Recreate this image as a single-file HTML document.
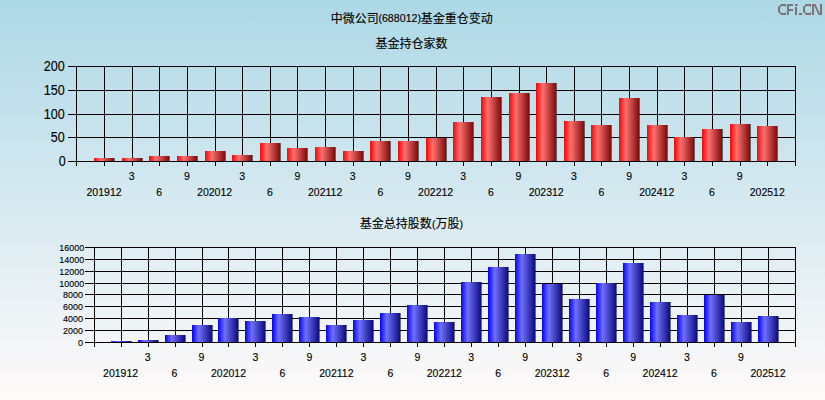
<!DOCTYPE html>
<html><head><meta charset="utf-8"><title>chart</title>
<style>html,body{margin:0;padding:0;background:#fff}body{width:825px;height:400px;overflow:hidden}#c{display:block;width:825px;height:400px;background:linear-gradient(to bottom,rgb(173,216,230),rgb(255,250,250))}</style>
</head><body>
<svg id="c" width="825" height="400" viewBox="0 0 825 400">
<defs><linearGradient id="gr" x1="0" y1="0" x2="1" y2="0"><stop offset="0" stop-color="rgb(255,0,0)"/><stop offset="0.335" stop-color="rgb(255,112,112)"/><stop offset="1" stop-color="rgb(126,12,12)"/></linearGradient><linearGradient id="gb" x1="0" y1="0" x2="1" y2="0"><stop offset="0" stop-color="rgb(0,0,255)"/><stop offset="0.335" stop-color="rgb(112,112,252)"/><stop offset="1" stop-color="rgb(12,12,126)"/></linearGradient><linearGradient id="bg" x1="0" y1="0" x2="0" y2="1"><stop offset="0" stop-color="rgb(173,216,230)"/><stop offset="1" stop-color="rgb(255,250,250)"/></linearGradient></defs>
<rect x="0" y="0" width="825" height="400" fill="url(#bg)"/>
<text x="378.40" y="22.20" style="font-family:'Liberation Sans',sans-serif;font-size:10.67px" fill="#000" stroke="#000" stroke-width="0.12">(688012)</text><text x="330.8" y="22.8" style="font-family:'Liberation Sans','Noto Sans CJK SC',sans-serif;font-size:12px" fill="#000" stroke="#000" stroke-width="0.12">中微公司</text><text x="420.8" y="22.8" style="font-family:'Liberation Sans','Noto Sans CJK SC',sans-serif;font-size:12px" fill="#000" stroke="#000" stroke-width="0.12">基金重仓变动</text>
<text x="375.5" y="48" style="font-family:'Liberation Sans','Noto Sans CJK SC',sans-serif;font-size:12px" fill="#000" stroke="#000" stroke-width="0.12">基金持仓家数</text>
<text x="432.05" y="227.80" style="font-family:'Liberation Sans',sans-serif;font-size:10.67px" fill="#000" stroke="#000" stroke-width="0.12">(</text><text x="459.60" y="227.80" style="font-family:'Liberation Sans',sans-serif;font-size:10.67px" fill="#000" stroke="#000" stroke-width="0.12">)</text><text x="359.8" y="228.4" style="font-family:'Liberation Sans','Noto Sans CJK SC',sans-serif;font-size:12px" fill="#000" stroke="#000" stroke-width="0.12">基金总持股数</text><text x="435.6" y="228.4" style="font-family:'Liberation Sans','Noto Sans CJK SC',sans-serif;font-size:12px" fill="#000" stroke="#000" stroke-width="0.12">万股</text>
<g fill="#000" shape-rendering="crispEdges"><rect x="68" y="66" width="728" height="1"/><rect x="68" y="90" width="728" height="1"/><rect x="68" y="114" width="728" height="1"/><rect x="68" y="137" width="728" height="1"/><rect x="68" y="161" width="728" height="1"/><rect x="76" y="66" width="1" height="100"/><rect x="104" y="66" width="1" height="100"/><rect x="132" y="66" width="1" height="100"/><rect x="159" y="66" width="1" height="100"/><rect x="187" y="66" width="1" height="100"/><rect x="215" y="66" width="1" height="100"/><rect x="242" y="66" width="1" height="100"/><rect x="270" y="66" width="1" height="100"/><rect x="297" y="66" width="1" height="100"/><rect x="325" y="66" width="1" height="100"/><rect x="353" y="66" width="1" height="100"/><rect x="380" y="66" width="1" height="100"/><rect x="408" y="66" width="1" height="100"/><rect x="436" y="66" width="1" height="100"/><rect x="463" y="66" width="1" height="100"/><rect x="491" y="66" width="1" height="100"/><rect x="519" y="66" width="1" height="100"/><rect x="546" y="66" width="1" height="100"/><rect x="574" y="66" width="1" height="100"/><rect x="601" y="66" width="1" height="100"/><rect x="629" y="66" width="1" height="100"/><rect x="657" y="66" width="1" height="100"/><rect x="684" y="66" width="1" height="100"/><rect x="712" y="66" width="1" height="100"/><rect x="740" y="66" width="1" height="100"/><rect x="767" y="66" width="1" height="100"/><rect x="795" y="66" width="1" height="100"/></g><g shape-rendering="crispEdges"><rect x="94" y="158" width="20" height="3" fill="url(#gr)"/><rect x="114" y="158" width="1" height="3" fill="#000" fill-opacity="0.55"/><rect x="122" y="158" width="20" height="3" fill="url(#gr)"/><rect x="142" y="158" width="1" height="3" fill="#000" fill-opacity="0.55"/><rect x="149" y="156" width="20" height="5" fill="url(#gr)"/><rect x="169" y="156" width="1" height="5" fill="#000" fill-opacity="0.55"/><rect x="177" y="156" width="20" height="5" fill="url(#gr)"/><rect x="197" y="156" width="1" height="5" fill="#000" fill-opacity="0.55"/><rect x="205" y="151" width="20" height="10" fill="url(#gr)"/><rect x="225" y="151" width="1" height="10" fill="#000" fill-opacity="0.55"/><rect x="232" y="155" width="20" height="6" fill="url(#gr)"/><rect x="252" y="155" width="1" height="6" fill="#000" fill-opacity="0.55"/><rect x="260" y="143" width="20" height="18" fill="url(#gr)"/><rect x="280" y="143" width="1" height="18" fill="#000" fill-opacity="0.55"/><rect x="287" y="148" width="20" height="13" fill="url(#gr)"/><rect x="307" y="148" width="1" height="13" fill="#000" fill-opacity="0.55"/><rect x="315" y="147" width="20" height="14" fill="url(#gr)"/><rect x="335" y="147" width="1" height="14" fill="#000" fill-opacity="0.55"/><rect x="343" y="151" width="20" height="10" fill="url(#gr)"/><rect x="363" y="151" width="1" height="10" fill="#000" fill-opacity="0.55"/><rect x="370" y="141" width="20" height="20" fill="url(#gr)"/><rect x="390" y="141" width="1" height="20" fill="#000" fill-opacity="0.55"/><rect x="398" y="141" width="20" height="20" fill="url(#gr)"/><rect x="418" y="141" width="1" height="20" fill="#000" fill-opacity="0.55"/><rect x="426" y="138" width="20" height="23" fill="url(#gr)"/><rect x="446" y="138" width="1" height="23" fill="#000" fill-opacity="0.55"/><rect x="453" y="122" width="20" height="39" fill="url(#gr)"/><rect x="473" y="122" width="1" height="39" fill="#000" fill-opacity="0.55"/><rect x="481" y="97" width="20" height="64" fill="url(#gr)"/><rect x="501" y="97" width="1" height="64" fill="#000" fill-opacity="0.55"/><rect x="509" y="93" width="20" height="68" fill="url(#gr)"/><rect x="529" y="93" width="1" height="68" fill="#000" fill-opacity="0.55"/><rect x="536" y="83" width="20" height="78" fill="url(#gr)"/><rect x="556" y="83" width="1" height="78" fill="#000" fill-opacity="0.55"/><rect x="564" y="121" width="20" height="40" fill="url(#gr)"/><rect x="584" y="121" width="1" height="40" fill="#000" fill-opacity="0.55"/><rect x="591" y="125" width="20" height="36" fill="url(#gr)"/><rect x="611" y="125" width="1" height="36" fill="#000" fill-opacity="0.55"/><rect x="619" y="98" width="20" height="63" fill="url(#gr)"/><rect x="639" y="98" width="1" height="63" fill="#000" fill-opacity="0.55"/><rect x="647" y="125" width="20" height="36" fill="url(#gr)"/><rect x="667" y="125" width="1" height="36" fill="#000" fill-opacity="0.55"/><rect x="674" y="137" width="20" height="24" fill="url(#gr)"/><rect x="694" y="137" width="1" height="24" fill="#000" fill-opacity="0.55"/><rect x="702" y="129" width="20" height="32" fill="url(#gr)"/><rect x="722" y="129" width="1" height="32" fill="#000" fill-opacity="0.55"/><rect x="730" y="124" width="20" height="37" fill="url(#gr)"/><rect x="750" y="124" width="1" height="37" fill="#000" fill-opacity="0.55"/><rect x="757" y="126" width="20" height="35" fill="url(#gr)"/><rect x="777" y="126" width="1" height="35" fill="#000" fill-opacity="0.55"/></g><g style="font-family:'Liberation Sans',sans-serif;font-size:13.33px" fill="#000" stroke="#000" stroke-width="0.12"><text transform="translate(64.8,71.20) scale(0.945,1.047)" text-anchor="end">200</text><text transform="translate(64.8,95.20) scale(0.945,1.047)" text-anchor="end">150</text><text transform="translate(64.8,119.20) scale(0.945,1.047)" text-anchor="end">100</text><text transform="translate(64.8,142.20) scale(0.945,1.047)" text-anchor="end">50</text><text transform="translate(65.8,166.20) scale(0.945,1.047)" text-anchor="end">0</text></g><g style="font-family:'Liberation Sans',sans-serif;font-size:10.67px" fill="#000" stroke="#000" stroke-width="0.12"><text transform="translate(104.03,196) scale(0.985,1.045)" text-anchor="middle">201912</text><text transform="translate(131.67,180) scale(0.985,1.045)" text-anchor="middle">3</text><text transform="translate(159.30,196) scale(0.985,1.045)" text-anchor="middle">6</text><text transform="translate(186.94,180) scale(0.985,1.045)" text-anchor="middle">9</text><text transform="translate(214.57,196) scale(0.985,1.045)" text-anchor="middle">202012</text><text transform="translate(242.20,180) scale(0.985,1.045)" text-anchor="middle">3</text><text transform="translate(269.84,196) scale(0.985,1.045)" text-anchor="middle">6</text><text transform="translate(297.47,180) scale(0.985,1.045)" text-anchor="middle">9</text><text transform="translate(325.11,196) scale(0.985,1.045)" text-anchor="middle">202112</text><text transform="translate(352.74,180) scale(0.985,1.045)" text-anchor="middle">3</text><text transform="translate(380.37,196) scale(0.985,1.045)" text-anchor="middle">6</text><text transform="translate(408.01,180) scale(0.985,1.045)" text-anchor="middle">9</text><text transform="translate(435.64,196) scale(0.985,1.045)" text-anchor="middle">202212</text><text transform="translate(463.28,180) scale(0.985,1.045)" text-anchor="middle">3</text><text transform="translate(490.91,196) scale(0.985,1.045)" text-anchor="middle">6</text><text transform="translate(518.54,180) scale(0.985,1.045)" text-anchor="middle">9</text><text transform="translate(546.18,196) scale(0.985,1.045)" text-anchor="middle">202312</text><text transform="translate(573.81,180) scale(0.985,1.045)" text-anchor="middle">3</text><text transform="translate(601.45,196) scale(0.985,1.045)" text-anchor="middle">6</text><text transform="translate(629.08,180) scale(0.985,1.045)" text-anchor="middle">9</text><text transform="translate(656.71,196) scale(0.985,1.045)" text-anchor="middle">202412</text><text transform="translate(684.35,180) scale(0.985,1.045)" text-anchor="middle">3</text><text transform="translate(711.98,196) scale(0.985,1.045)" text-anchor="middle">6</text><text transform="translate(739.62,180) scale(0.985,1.045)" text-anchor="middle">9</text><text transform="translate(767.25,196) scale(0.985,1.045)" text-anchor="middle">202512</text></g>
<g fill="#000" shape-rendering="crispEdges"><rect x="85" y="247" width="711" height="1"/><rect x="85" y="259" width="711" height="1"/><rect x="85" y="271" width="711" height="1"/><rect x="85" y="283" width="711" height="1"/><rect x="85" y="294" width="711" height="1"/><rect x="85" y="306" width="711" height="1"/><rect x="85" y="318" width="711" height="1"/><rect x="85" y="330" width="711" height="1"/><rect x="85" y="342" width="711" height="1"/><rect x="94" y="247" width="1" height="100"/><rect x="121" y="247" width="1" height="100"/><rect x="148" y="247" width="1" height="100"/><rect x="175" y="247" width="1" height="100"/><rect x="202" y="247" width="1" height="100"/><rect x="228" y="247" width="1" height="100"/><rect x="255" y="247" width="1" height="100"/><rect x="282" y="247" width="1" height="100"/><rect x="309" y="247" width="1" height="100"/><rect x="336" y="247" width="1" height="100"/><rect x="363" y="247" width="1" height="100"/><rect x="390" y="247" width="1" height="100"/><rect x="417" y="247" width="1" height="100"/><rect x="444" y="247" width="1" height="100"/><rect x="471" y="247" width="1" height="100"/><rect x="498" y="247" width="1" height="100"/><rect x="525" y="247" width="1" height="100"/><rect x="552" y="247" width="1" height="100"/><rect x="579" y="247" width="1" height="100"/><rect x="606" y="247" width="1" height="100"/><rect x="633" y="247" width="1" height="100"/><rect x="660" y="247" width="1" height="100"/><rect x="687" y="247" width="1" height="100"/><rect x="714" y="247" width="1" height="100"/><rect x="741" y="247" width="1" height="100"/><rect x="768" y="247" width="1" height="100"/><rect x="795" y="247" width="1" height="100"/></g><g shape-rendering="crispEdges"><rect x="111" y="341" width="20" height="1" fill="url(#gb)"/><rect x="131" y="341" width="1" height="1" fill="#000" fill-opacity="0.55"/><rect x="138" y="340" width="20" height="2" fill="url(#gb)"/><rect x="158" y="340" width="1" height="2" fill="#000" fill-opacity="0.55"/><rect x="165" y="335" width="20" height="7" fill="url(#gb)"/><rect x="185" y="335" width="1" height="7" fill="#000" fill-opacity="0.55"/><rect x="192" y="325" width="20" height="17" fill="url(#gb)"/><rect x="212" y="325" width="1" height="17" fill="#000" fill-opacity="0.55"/><rect x="218" y="318" width="20" height="24" fill="url(#gb)"/><rect x="238" y="318" width="1" height="24" fill="#000" fill-opacity="0.55"/><rect x="245" y="321" width="20" height="21" fill="url(#gb)"/><rect x="265" y="321" width="1" height="21" fill="#000" fill-opacity="0.55"/><rect x="272" y="314" width="20" height="28" fill="url(#gb)"/><rect x="292" y="314" width="1" height="28" fill="#000" fill-opacity="0.55"/><rect x="299" y="317" width="20" height="25" fill="url(#gb)"/><rect x="319" y="317" width="1" height="25" fill="#000" fill-opacity="0.55"/><rect x="326" y="325" width="20" height="17" fill="url(#gb)"/><rect x="346" y="325" width="1" height="17" fill="#000" fill-opacity="0.55"/><rect x="353" y="320" width="20" height="22" fill="url(#gb)"/><rect x="373" y="320" width="1" height="22" fill="#000" fill-opacity="0.55"/><rect x="380" y="313" width="20" height="29" fill="url(#gb)"/><rect x="400" y="313" width="1" height="29" fill="#000" fill-opacity="0.55"/><rect x="407" y="305" width="20" height="37" fill="url(#gb)"/><rect x="427" y="305" width="1" height="37" fill="#000" fill-opacity="0.55"/><rect x="434" y="322" width="20" height="20" fill="url(#gb)"/><rect x="454" y="322" width="1" height="20" fill="#000" fill-opacity="0.55"/><rect x="461" y="282" width="20" height="60" fill="url(#gb)"/><rect x="481" y="282" width="1" height="60" fill="#000" fill-opacity="0.55"/><rect x="488" y="267" width="20" height="75" fill="url(#gb)"/><rect x="508" y="267" width="1" height="75" fill="#000" fill-opacity="0.55"/><rect x="515" y="254" width="20" height="88" fill="url(#gb)"/><rect x="535" y="254" width="1" height="88" fill="#000" fill-opacity="0.55"/><rect x="542" y="284" width="20" height="58" fill="url(#gb)"/><rect x="562" y="284" width="1" height="58" fill="#000" fill-opacity="0.55"/><rect x="569" y="299" width="20" height="43" fill="url(#gb)"/><rect x="589" y="299" width="1" height="43" fill="#000" fill-opacity="0.55"/><rect x="596" y="283" width="20" height="59" fill="url(#gb)"/><rect x="616" y="283" width="1" height="59" fill="#000" fill-opacity="0.55"/><rect x="623" y="263" width="20" height="79" fill="url(#gb)"/><rect x="643" y="263" width="1" height="79" fill="#000" fill-opacity="0.55"/><rect x="650" y="302" width="20" height="40" fill="url(#gb)"/><rect x="670" y="302" width="1" height="40" fill="#000" fill-opacity="0.55"/><rect x="677" y="315" width="20" height="27" fill="url(#gb)"/><rect x="697" y="315" width="1" height="27" fill="#000" fill-opacity="0.55"/><rect x="704" y="295" width="20" height="47" fill="url(#gb)"/><rect x="724" y="295" width="1" height="47" fill="#000" fill-opacity="0.55"/><rect x="731" y="322" width="20" height="20" fill="url(#gb)"/><rect x="751" y="322" width="1" height="20" fill="#000" fill-opacity="0.55"/><rect x="758" y="316" width="20" height="26" fill="url(#gb)"/><rect x="778" y="316" width="1" height="26" fill="#000" fill-opacity="0.55"/></g><g style="font-family:'Liberation Sans',sans-serif;font-size:9.33px" fill="#000" stroke="#000" stroke-width="0.12"><text transform="translate(84.1,250.80) scale(0.955,1.047)" text-anchor="end">16000</text><text transform="translate(84.1,262.80) scale(0.955,1.047)" text-anchor="end">14000</text><text transform="translate(84.1,274.80) scale(0.955,1.047)" text-anchor="end">12000</text><text transform="translate(84.1,286.80) scale(0.955,1.047)" text-anchor="end">10000</text><text transform="translate(82.89999999999999,297.80) scale(0.955,1.047)" text-anchor="end">8000</text><text transform="translate(82.89999999999999,309.80) scale(0.955,1.047)" text-anchor="end">6000</text><text transform="translate(82.89999999999999,321.80) scale(0.955,1.047)" text-anchor="end">4000</text><text transform="translate(82.89999999999999,333.80) scale(0.955,1.047)" text-anchor="end">2000</text><text transform="translate(82.89999999999999,345.80) scale(0.955,1.047)" text-anchor="end">0</text></g><g style="font-family:'Liberation Sans',sans-serif;font-size:10.67px" fill="#000" stroke="#000" stroke-width="0.12"><text transform="translate(120.59,377) scale(0.985,1.045)" text-anchor="middle">201912</text><text transform="translate(147.57,361) scale(0.985,1.045)" text-anchor="middle">3</text><text transform="translate(174.54,377) scale(0.985,1.045)" text-anchor="middle">6</text><text transform="translate(201.52,361) scale(0.985,1.045)" text-anchor="middle">9</text><text transform="translate(228.49,377) scale(0.985,1.045)" text-anchor="middle">202012</text><text transform="translate(255.46,361) scale(0.985,1.045)" text-anchor="middle">3</text><text transform="translate(282.44,377) scale(0.985,1.045)" text-anchor="middle">6</text><text transform="translate(309.41,361) scale(0.985,1.045)" text-anchor="middle">9</text><text transform="translate(336.39,377) scale(0.985,1.045)" text-anchor="middle">202112</text><text transform="translate(363.36,361) scale(0.985,1.045)" text-anchor="middle">3</text><text transform="translate(390.33,377) scale(0.985,1.045)" text-anchor="middle">6</text><text transform="translate(417.31,361) scale(0.985,1.045)" text-anchor="middle">9</text><text transform="translate(444.28,377) scale(0.985,1.045)" text-anchor="middle">202212</text><text transform="translate(471.26,361) scale(0.985,1.045)" text-anchor="middle">3</text><text transform="translate(498.23,377) scale(0.985,1.045)" text-anchor="middle">6</text><text transform="translate(525.20,361) scale(0.985,1.045)" text-anchor="middle">9</text><text transform="translate(552.18,377) scale(0.985,1.045)" text-anchor="middle">202312</text><text transform="translate(579.15,361) scale(0.985,1.045)" text-anchor="middle">3</text><text transform="translate(606.13,377) scale(0.985,1.045)" text-anchor="middle">6</text><text transform="translate(633.10,361) scale(0.985,1.045)" text-anchor="middle">9</text><text transform="translate(660.07,377) scale(0.985,1.045)" text-anchor="middle">202412</text><text transform="translate(687.05,361) scale(0.985,1.045)" text-anchor="middle">3</text><text transform="translate(714.02,377) scale(0.985,1.045)" text-anchor="middle">6</text><text transform="translate(741.00,361) scale(0.985,1.045)" text-anchor="middle">9</text><text transform="translate(767.97,377) scale(0.985,1.045)" text-anchor="middle">202512</text></g>
<g fill="#7d7575"><rect x="781" y="4" width="5" height="2"/><rect x="781" y="13" width="5" height="2"/><rect x="778" y="7" width="2" height="5"/><rect x="785" y="6" width="1" height="1"/><rect x="785" y="12" width="1" height="1"/></g><path d="M781.4,4.9 L778.9,7.4 M778.9,11.6 L781.4,14.1" fill="none" stroke="#7d7575" stroke-width="1.6" stroke-linecap="square"/><g fill="#7d7575"><rect x="787" y="4" width="2" height="11"/><rect x="787" y="4" width="6" height="2"/><rect x="787" y="9" width="6" height="2"/><rect x="795" y="4" width="2.6" height="2"/><rect x="795" y="7" width="2" height="8"/><rect x="799" y="13" width="3" height="2"/><rect x="812" y="4" width="2" height="11"/><rect x="820" y="4" width="2" height="11"/><polygon points="813.4,4 815.4,4 820.6,15 818.6,15"/></g><g fill="#7d7575"><rect x="806" y="4" width="5" height="2"/><rect x="806" y="13" width="5" height="2"/><rect x="803" y="7" width="2" height="5"/><rect x="810" y="6" width="1" height="1"/><rect x="810" y="12" width="1" height="1"/></g><path d="M806.4,4.9 L803.9,7.4 M803.9,11.6 L806.4,14.1" fill="none" stroke="#7d7575" stroke-width="1.6" stroke-linecap="square"/>
</svg></body></html>
